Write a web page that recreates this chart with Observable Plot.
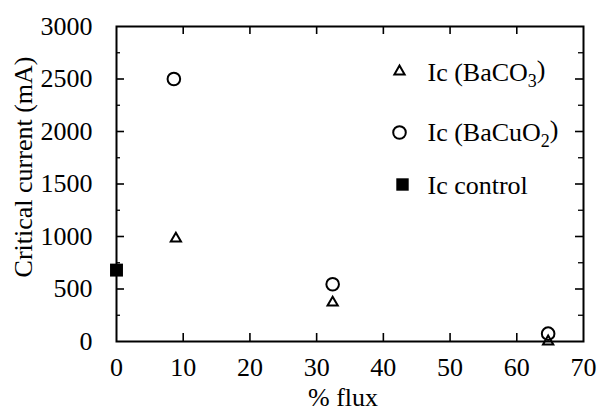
<!DOCTYPE html>
<html>
<head>
<meta charset="utf-8">
<script src="https://cdn.jsdelivr.net/npm/d3@7"></script>
<script src="https://cdn.jsdelivr.net/npm/@observablehq/plot@0.6"></script>
<style>
  html, body { margin: 0; padding: 0; background: white; }
  #chart svg text, #chart svg tspan { font-family: "Liberation Serif", "Times New Roman", serif !important; font-variant: normal !important; }
</style>
</head>
<body>
<div id="chart"></div>
<script>
// ---- data ----
const fluxBaCO3 = [8.9, 32.4, 64.7];
const icBaCO3 = [980, 370, 0];
const fluxBaCuO2 = [8.6, 32.4, 64.7];
const icBaCuO2 = [2500, 545, 75];
const fluxControl = [0];
const icControl = [680];

const legendLabels = ["Ic (BaCO_3)", "Ic (BaCuO_2)", "Ic control"];
const legendSymbols = ["triangle", "circle", "square"];

const xTicks = [0, 10, 20, 30, 40, 50, 60, 70];
const xInnerTicks = [10, 20, 30, 40, 50, 60];
const yTicks = [0, 500, 1000, 1500, 2000, 2500, 3000];
const yInnerMajor = [500, 1000, 1500, 2000, 2500];
const yMinor = [250, 750, 1250, 1750, 2250, 2750];

const xLabel = "% flux";
const yLabel = "Critical current (mA)";

// ---- build tables ----
const baco3 = fluxBaCO3.map((x, i) => ({x, y: icBaCO3[i]}));
const bacuo2 = fluxBaCuO2.map((x, i) => ({x, y: icBaCuO2[i]}));
const control = fluxControl.map((x, i) => ({x, y: icControl[i]}));

const W = 598, H = 411;
const mL = 116, mR = 15, mT = 26, mB = 70;
const fw = W - mL - mR, fh = H - mT - mB;

const legendDy = [45, 106, 158];
const legendTextDy = [46, 106, 159];
const legendSymDx = [283, 283, 286];

const plot = Plot.plot({
  width: W,
  height: H,
  marginLeft: mL,
  marginRight: mR,
  marginTop: mT,
  marginBottom: mB,
  x: {domain: [0, 70]},
  y: {domain: [0, 3000]},
  style: {fontSize: "26px", background: "white", color: "black"},
  marks: [
    // inward ticks
    Plot.ruleX(xInnerTicks, {stroke: "black", strokeWidth: 1.6, insetTop: fh - 8}),
    Plot.ruleX(xInnerTicks, {stroke: "black", strokeWidth: 1.6, insetBottom: fh - 8}),
    Plot.ruleY(yInnerMajor, {stroke: "black", strokeWidth: 1.6, insetRight: fw - 8}),
    Plot.ruleY(yInnerMajor, {stroke: "black", strokeWidth: 1.6, insetLeft: fw - 8}),
    Plot.ruleY(yMinor, {stroke: "black", strokeWidth: 1.3, insetRight: fw - 4}),
    Plot.ruleY(yMinor, {stroke: "black", strokeWidth: 1.3, insetLeft: fw - 5}),
    Plot.frame({stroke: "black", strokeWidth: 2}),
    // tick labels
    Plot.axisX({ticks: xTicks, tickSize: 0, tickPadding: 16, label: null, tickFormat: d => String(d), fontSize: 26}),
    Plot.axisY({ticks: yTicks, tickSize: 0, tickPadding: 24, label: null, tickFormat: d => String(d), fontSize: 26}),
    // axis titles
    Plot.text([xLabel], {frameAnchor: "bottom", dx: -7, dy: 56, textAnchor: "middle", lineAnchor: "middle", fontSize: 26, fill: "black"}),
    Plot.text([yLabel], {frameAnchor: "left", rotate: -90, dx: -93, dy: -17, textAnchor: "middle", lineAnchor: "middle", fontSize: 26, fill: "black"}),
    // data
    Plot.dot(baco3, {x: "x", y: "y", symbol: "triangle", r: 3.8, stroke: "black", strokeWidth: 2, fill: "none"}),
    Plot.dot(bacuo2, {x: "x", y: "y", symbol: "circle", r: 6.3, stroke: "black", strokeWidth: 2, fill: "none"}),
    Plot.dot(control, {x: "x", y: "y", symbol: "square", r: 7.3, fill: "black", stroke: "none"}),
    // legend
    ...legendLabels.map((lab, i) => Plot.dot([lab], {
      frameAnchor: "top-left", dx: legendSymDx[i], dy: legendDy[i],
      symbol: legendSymbols[i],
      r: i === 0 ? 3.8 : i === 1 ? 6.3 : 7.0,
      stroke: i === 2 ? "none" : "black", strokeWidth: 2,
      fill: i === 2 ? "black" : "none"
    })),
    ...legendLabels.map((lab, i) => Plot.text([lab], {
      frameAnchor: "top-left", dx: 311, dy: legendTextDy[i],
      textAnchor: "start", lineAnchor: "middle", fontSize: 26, fill: "black"
    }))
  ]
});

// render subscripts in legend labels
d3.select(plot).selectAll("text").each(function() {
  const t = this.textContent;
  if (t.includes("_")) {
    const m = t.match(/^(.*)_(\d)(.*)$/);
    const sel = d3.select(this);
    sel.text(null);
    sel.append("tspan").text(m[1]);
    sel.append("tspan").attr("dy", "0.35em").attr("font-size", "18px").text(m[2]);
    sel.append("tspan").attr("dy", "-0.35em").text(m[3]);
  }
});

document.getElementById("chart").appendChild(plot);
</script>
</body>
</html>
